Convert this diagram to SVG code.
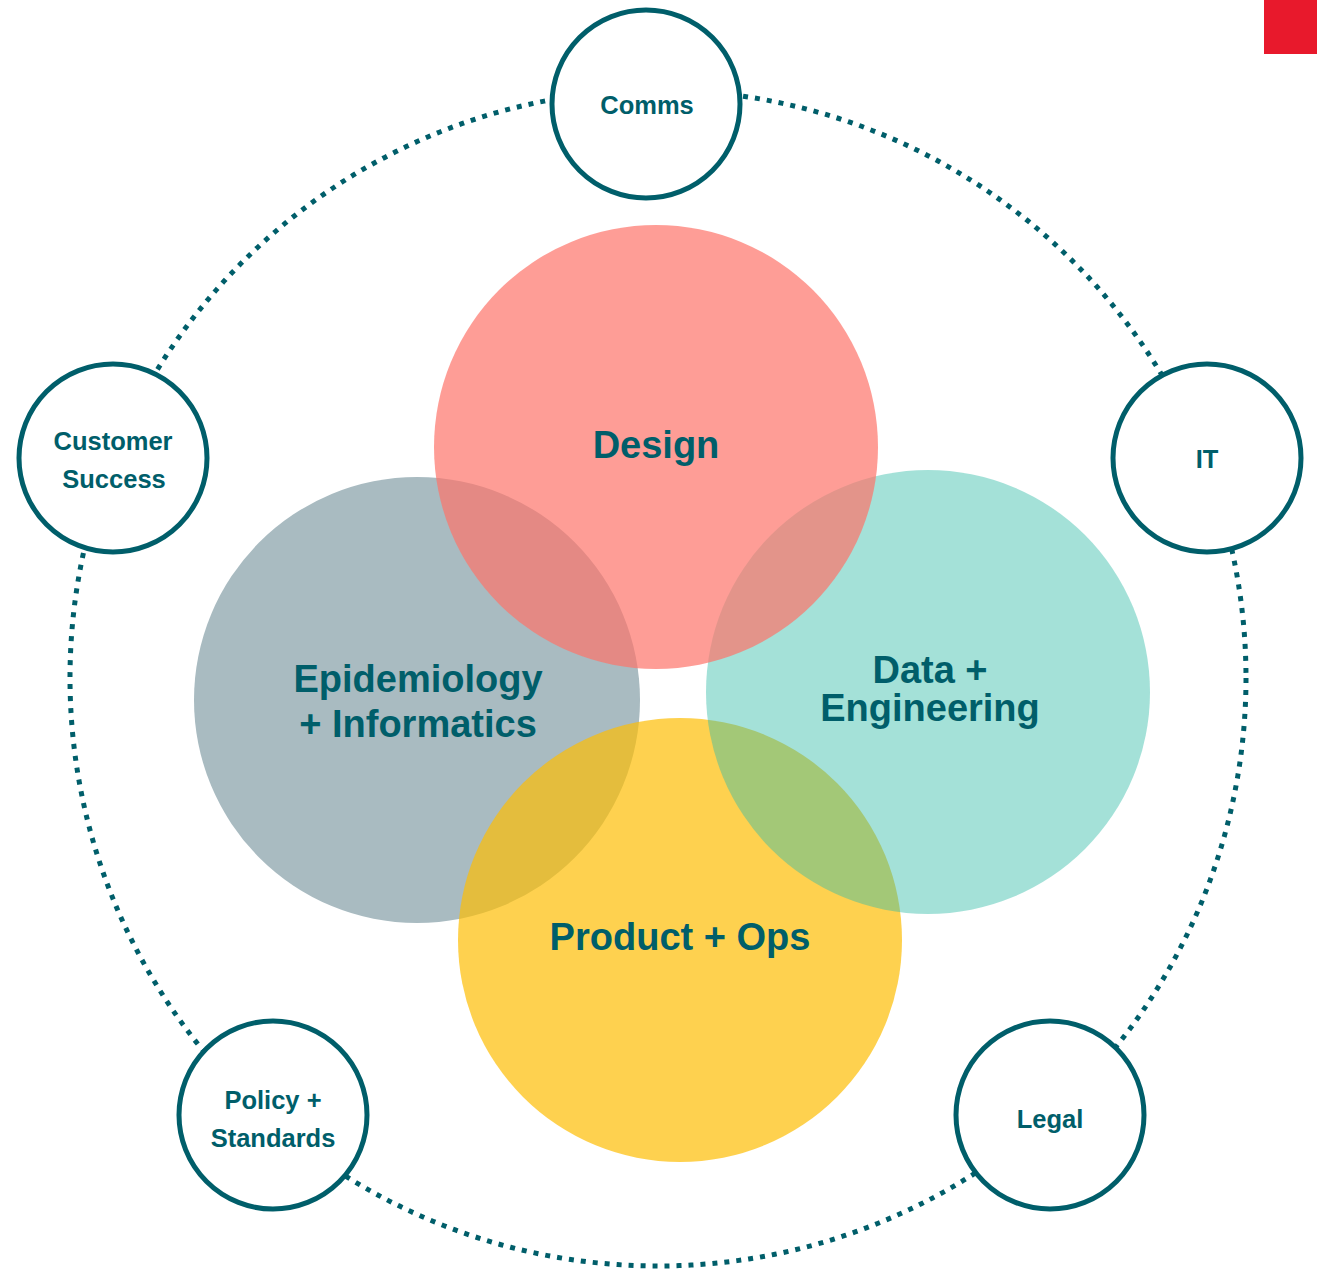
<svg xmlns="http://www.w3.org/2000/svg" width="1317" height="1270" viewBox="0 0 1317 1270">
<style>
.ring{fill:none;stroke:#005E6A;stroke-width:5;stroke-dasharray:5 7}
.sat{fill:#ffffff;stroke:#005E6A;stroke-width:5}
.big{font-family:"Liberation Sans",Arial,sans-serif;font-weight:bold;font-size:38px;fill:#005E6A;text-anchor:middle}
.small{font-family:"Liberation Sans",Arial,sans-serif;font-weight:bold;font-size:25.5px;fill:#005E6A;text-anchor:middle}
</style>
<rect x="0" y="0" width="1317" height="1270" fill="#ffffff"/>
<rect id="corner-mark" x="1264" y="0" width="53" height="54" fill="#E8192C"/>
<g id="connectors">
<circle class="ring" cx="658" cy="678" r="588"/>
</g>
<g id="epidemiology">
<circle cx="417" cy="700" r="223" fill="#A9BBC1"/>
</g>
<g id="product-ops">
<circle cx="680" cy="940" r="222" fill="#FEBD04" fill-opacity="0.7"/>
</g>
<g id="data-engineering">
<circle cx="928" cy="692" r="222" fill="#35BCA8" fill-opacity="0.45"/>
</g>
<g id="design">
<circle cx="656" cy="447" r="222" fill="#FE746A" fill-opacity="0.7"/>
</g>
<g id="labels-core">
<text class="big" x="656" y="458">Design</text>
<text class="big" x="418" y="692">Epidemiology</text>
<text class="big" x="418" y="737">+ Informatics</text>
<text class="big" x="930" y="683">Data +</text>
<text class="big" x="930" y="721">Engineering</text>
<text class="big" x="680" y="950">Product + Ops</text>
</g>
<g id="comms">
<circle class="sat" cx="646" cy="104" r="94"/>
<text class="small" x="647" y="114">Comms</text>
</g>
<g id="customer-success">
<circle class="sat" cx="113" cy="458" r="94"/>
<text class="small" x="113" y="450">Customer</text>
<text class="small" x="114" y="488">Success</text>
</g>
<g id="it">
<circle class="sat" cx="1207" cy="458" r="94"/>
<text class="small" x="1207" y="468">IT</text>
</g>
<g id="policy-standards">
<circle class="sat" cx="273" cy="1115" r="94"/>
<text class="small" x="273" y="1109">Policy +</text>
<text class="small" x="273" y="1147">Standards</text>
</g>
<g id="legal">
<circle class="sat" cx="1050" cy="1115" r="94"/>
<text class="small" x="1050" y="1128">Legal</text>
</g>
</svg>
